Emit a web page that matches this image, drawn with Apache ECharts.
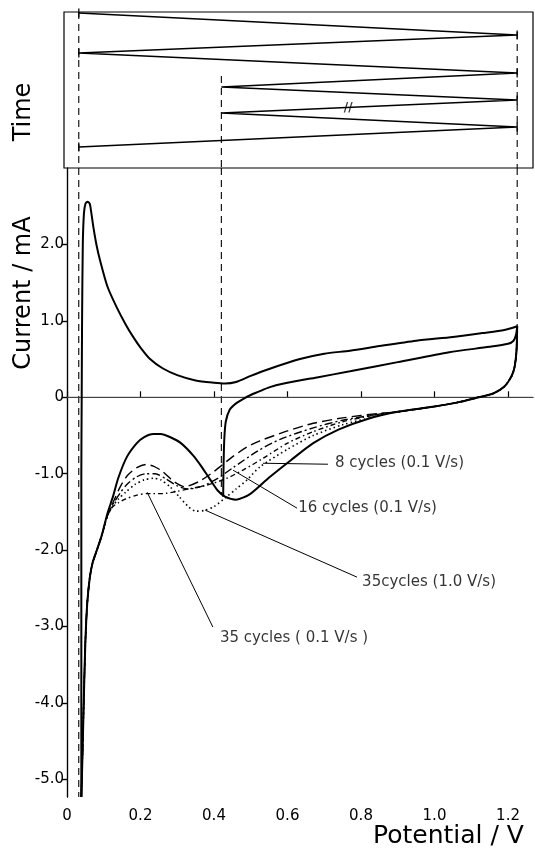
<!DOCTYPE html>
<html>
<head>
<meta charset="utf-8">
<script src="https://cdn.jsdelivr.net/npm/echarts@6/dist/echarts.min.js"></script>
<style>
  html, body { margin: 0; padding: 0; background: #fff; }
  #chart { width: 535px; height: 851px; }
</style>
</head>
<body>
<div id="chart"></div>
<script>
// potential limits of the sweep programme (V)
var LIMITS = [0.032, 0.42, 1.225];

// time programme (top panel): potential vs. time
var TIME_V = [0.032, 1.225, 0.032, 1.225, 0.42, 1.225, 0.42, 1.225, 0.032];
var TIME_T = [1, 23, 41, 61, 75, 88, 101, 115, 135];
var TIME_TICKS = [0, 1, 2, 3, 5, 7, 8]; // vertices that carry an end tick

// first cycle, anodic 0.03 -> 1.22 V
var SOLID_UP = [[0.039,-5.23],[0.039,-3.0],[0.039,-1.0],[0.04,0],[0.041,1.0],[0.043,2.0],[0.046,2.4],
  [0.05,2.53],[0.056,2.56],[0.062,2.53],[0.066,2.42],[0.072,2.22],[0.08,2.0],[0.09,1.79],[0.11,1.45],
  [0.135,1.18],[0.16,0.95],[0.18,0.79],[0.2,0.65],[0.226,0.5],[0.26,0.38],[0.3,0.29],[0.35,0.22],
  [0.4,0.19],[0.43,0.18],[0.46,0.2],[0.5,0.28],[0.55,0.37],[0.634,0.5],[0.7,0.57],[0.77,0.61],
  [0.85,0.67],[0.95,0.74],[1.05,0.79],[1.13,0.84],[1.19,0.88],[1.225,0.93]];

// first cycle, cathodic 1.22 -> 0.03 V
var SOLID_DOWN = [[1.225,0.93],[1.223,0.6],[1.218,0.4],[1.21,0.28],[1.19,0.14],[1.16,0.05],[1.12,0.0],
  [1.06,-0.07],[1.0,-0.12],[0.9,-0.19],[0.82,-0.28],[0.74,-0.42],[0.67,-0.6],[0.61,-0.82],[0.55,-1.05],
  [0.5,-1.26],[0.46,-1.34],[0.43,-1.3],[0.41,-1.22],[0.39,-1.08],[0.365,-0.9],[0.343,-0.76],[0.31,-0.6],
  [0.28,-0.52],[0.255,-0.48],[0.235,-0.48],[0.21,-0.52],[0.19,-0.6],[0.163,-0.78],[0.14,-1.05],
  [0.125,-1.3],[0.11,-1.52],[0.095,-1.8],[0.082,-1.99],[0.07,-2.16],[0.062,-2.36],[0.055,-2.7],
  [0.05,-3.2],[0.046,-3.9],[0.042,-4.7],[0.039,-5.23]];

// anodic sweep starting at 0.42 V
var SOLID_UP_042 = [[0.425,-1.3],[0.426,-0.9],[0.428,-0.55],[0.432,-0.32],[0.443,-0.16],[0.46,-0.08],
  [0.48,-0.02],[0.5,0.03],[0.52,0.07],[0.55,0.13],[0.59,0.18],[0.68,0.26],[0.77,0.34],[0.9,0.46],
  [1.04,0.59],[1.15,0.66],[1.2,0.7],[1.215,0.74],[1.222,0.82],[1.225,0.93]];

// shared start and end of the cathodic sweeps after cycling
var HEAD = [[1.225,0.93],[1.223,0.6],[1.218,0.4],[1.21,0.28],[1.19,0.14],[1.16,0.05],[1.12,0.0],
  [1.06,-0.07],[1.0,-0.12],[0.9,-0.19]];
var TAIL = [[0.11,-1.55],[0.095,-1.8],[0.082,-1.99],[0.07,-2.16],[0.062,-2.36],[0.055,-2.7],
  [0.05,-3.2],[0.046,-3.9],[0.042,-4.7],[0.039,-5.23]];

var CYC8 = [[0.85,-0.21],[0.75,-0.27],[0.67,-0.34],[0.6,-0.44],[0.525,-0.57],[0.49,-0.65],[0.45,-0.78],
  [0.4,-0.97],[0.36,-1.1],[0.32,-1.17],[0.29,-1.1],[0.26,-0.97],[0.235,-0.9],[0.215,-0.88],[0.19,-0.92],
  [0.165,-1.02],[0.145,-1.17],[0.125,-1.38]];
var CYC16 = [[0.85,-0.22],[0.75,-0.3],[0.67,-0.4],[0.58,-0.55],[0.52,-0.7],[0.452,-0.92],[0.41,-1.06],
  [0.37,-1.16],[0.33,-1.2],[0.3,-1.16],[0.27,-1.07],[0.24,-1.0],[0.215,-1.0],[0.19,-1.04],[0.165,-1.13],
  [0.145,-1.25],[0.125,-1.4]];
var CYC35_FAST = [[0.85,-0.24],[0.75,-0.36],[0.67,-0.5],[0.6,-0.68],[0.525,-0.91],[0.49,-1.08],[0.46,-1.2],
  [0.435,-1.3],[0.4,-1.43],[0.375,-1.48],[0.35,-1.49],[0.33,-1.43],[0.305,-1.3],[0.28,-1.17],[0.255,-1.08],
  [0.235,-1.06],[0.21,-1.08],[0.185,-1.14],[0.16,-1.24],[0.14,-1.33],[0.125,-1.42]];
var CYC35_SLOW = [[0.85,-0.22],[0.75,-0.32],[0.67,-0.45],[0.6,-0.6],[0.533,-0.8],[0.48,-0.95],[0.43,-1.07],
  [0.38,-1.15],[0.33,-1.2],[0.3,-1.23],[0.26,-1.26],[0.218,-1.26],[0.19,-1.28],[0.16,-1.33],[0.14,-1.38],
  [0.125,-1.43]];

// annotations: label text, label anchor, pointer line
var NOTE_TEXT = ['8 cycles (0.1 V/s)', '16 cycles (0.1 V/s)', '35cycles (1.0 V/s)', '35 cycles ( 0.1 V/s )'];
var NOTE_AT = [[0.729,-0.863],[0.629,-1.451],[0.803,-2.418],[0.416,-3.15]];
var NOTE_LINE = [
  [[0.71,-0.876],[0.533,-0.863]],
  [[0.626,-1.451],[0.452,-0.954]],
  [[0.789,-2.353],[0.376,-1.477]],
  [[0.397,-3.007],[0.218,-1.242]]
];

var X_TICKS = [0, 0.2, 0.4, 0.6, 0.8, 1.0, 1.2];
var Y_TICKS = [-5, -4, -3, -2, -1, 0, 1, 2];

var FONT = 'DejaVu Sans';
var chart = echarts.init(document.getElementById('chart'));

function curve(data, width, dash) {
  return {
    type: 'line', xAxisIndex: 1, yAxisIndex: 1, data: data,
    showSymbol: false, symbol: 'none', smooth: 0.25, animation: false,
    lineStyle: { color: '#000', width: width, type: dash || 'solid' }, z: 3
  };
}

var timeData = TIME_V.map(function (v, i) { return [v, TIME_T[i]]; });
var tickData = TIME_TICKS.map(function (i) { return [TIME_V[i], TIME_T[i]]; });
var breakPt = [[0.765, 95.4]];

var series = [
  { type: 'line', xAxisIndex: 0, yAxisIndex: 0, data: timeData, symbol: 'none', animation: false,
    lineStyle: { color: '#000', width: 1.3 } },
  { type: 'scatter', xAxisIndex: 0, yAxisIndex: 0, data: tickData, symbol: 'rect', symbolSize: [1.6, 9],
    itemStyle: { color: '#000' }, animation: false },
  { type: 'scatter', xAxisIndex: 0, yAxisIndex: 0, data: breakPt, symbolSize: 0, animation: false,
    label: { show: true, formatter: '//', position: 'inside', fontSize: 12, fontWeight: 'bold', color: '#000', fontFamily: FONT } },
  // dashed limit lines
  { type: 'line', xAxisIndex: 0, yAxisIndex: 0, data: [[LIMITS[0], 0], [LIMITS[0], 156]], symbol: 'none', animation: false,
    lineStyle: { color: '#000', width: 1.1, type: [7, 5] } },
  { type: 'line', xAxisIndex: 0, yAxisIndex: 0, data: [[LIMITS[1], 64], [LIMITS[1], 156]], symbol: 'none', animation: false,
    lineStyle: { color: '#000', width: 1.1, type: [7, 5] } },
  { type: 'line', xAxisIndex: 0, yAxisIndex: 0, data: [[LIMITS[2], 20], [LIMITS[2], 156]], symbol: 'none', animation: false,
    lineStyle: { color: '#000', width: 1.1, type: [7, 5] } },
  { type: 'line', xAxisIndex: 1, yAxisIndex: 1, data: [[LIMITS[0], 3], [LIMITS[0], -5.23]], symbol: 'none', animation: false,
    lineStyle: { color: '#000', width: 1.1, type: [7, 5] } },
  { type: 'line', xAxisIndex: 1, yAxisIndex: 1, data: [[LIMITS[1], 3], [LIMITS[1], -1.28]], symbol: 'none', animation: false,
    lineStyle: { color: '#000', width: 1.1, type: [7, 5] } },
  { type: 'line', xAxisIndex: 1, yAxisIndex: 1, data: [[LIMITS[2], 3], [LIMITS[2], 0.93]], symbol: 'none', animation: false,
    lineStyle: { color: '#000', width: 1.1, type: [7, 5] } },
  // zero current line
  { type: 'line', xAxisIndex: 1, yAxisIndex: 1, data: [[0, 0], [1.268, 0]], symbol: 'none', animation: false,
    lineStyle: { color: '#555', width: 1 } },
  curve(SOLID_UP, 2),
  curve(SOLID_DOWN, 2),
  curve(SOLID_UP_042, 2),
  curve(HEAD.concat(CYC8, TAIL), 1.4, [10, 5]),
  curve(HEAD.concat(CYC16, TAIL), 1.4, [8, 3, 2, 3]),
  curve(HEAD.concat(CYC35_FAST, TAIL), 1.6, [1.5, 3]),
  curve(HEAD.concat(CYC35_SLOW, TAIL), 1.4, [5, 3, 1.5, 3])
];

NOTE_LINE.forEach(function (seg) {
  series.push({ type: 'line', xAxisIndex: 1, yAxisIndex: 1, data: seg, symbol: 'none', animation: false,
    lineStyle: { color: '#000', width: 1 } });
});
series.push({
  type: 'scatter', xAxisIndex: 1, yAxisIndex: 1, symbolSize: 0, animation: false,
  data: NOTE_AT.map(function (p, i) { return { value: p, name: NOTE_TEXT[i] }; }),
  label: { show: true, position: 'right', distance: 0, formatter: '{b}', color: '#000', fontSize: 15, fontFamily: FONT }
});

chart.setOption({
  backgroundColor: '#fff',
  animation: false,
  grid: [
    { left: 64, right: 2, top: 12, height: 156, show: true, borderColor: '#000', borderWidth: 1.2 },
    { left: 67, right: 2, top: 168, bottom: 54 }
  ],
  xAxis: [
    { gridIndex: 0, type: 'value', min: -0.0082, max: 1.268, show: false },
    { gridIndex: 1, type: 'value', min: 0, max: 1.268,
      axisLine: { show: true, lineStyle: { color: '#000', width: 1.2 } },
      axisTick: { show: true, inside: true, length: 6, customValues: X_TICKS, lineStyle: { color: '#000', width: 1.2 } },
      axisLabel: { show: true, customValues: X_TICKS, color: '#000', fontSize: 15, fontFamily: FONT, margin: 12,
        formatter: function (v) { return v === 0 ? '0' : v.toFixed(1); } },
      splitLine: { show: false } }
  ],
  yAxis: [
    { gridIndex: 0, type: 'value', min: 0, max: 156, inverse: true, show: false },
    { gridIndex: 1, type: 'value', min: -5.23, max: 3.0,
      axisLine: { show: true, onZero: false, lineStyle: { color: '#000', width: 1.2 } },
      axisTick: { show: true, inside: false, length: 5, customValues: Y_TICKS, lineStyle: { color: '#000', width: 1.2 } },
      axisLabel: { show: true, customValues: Y_TICKS, color: '#000', fontSize: 15, fontFamily: FONT, margin: 3,
        formatter: function (v) { return v === 0 ? '0' : v.toFixed(1); } },
      splitLine: { show: false } },
    { gridIndex: 1, type: 'value', min: -5.23, max: 3.0, position: 'right',
      axisLine: { show: true, lineStyle: { color: '#000', width: 1.2 } },
      axisTick: { show: true, inside: true, length: 5, customValues: Y_TICKS, lineStyle: { color: '#000', width: 1.2 } },
      axisLabel: { show: false }, splitLine: { show: false } }
  ],
  graphic: [
    { type: 'text', left: 373, top: 824, style: { text: 'Potential / V', fontSize: 25, fontFamily: FONT, fill: '#000' } },
    { type: 'text', x: 24, y: 293, rotation: Math.PI / 2,
      style: { text: 'Current / mA', fontSize: 24, fontFamily: FONT, fill: '#000', align: 'center', verticalAlign: 'middle' } },
    { type: 'text', x: 24, y: 112, rotation: Math.PI / 2,
      style: { text: 'Time', fontSize: 24, fontFamily: FONT, fill: '#000', align: 'center', verticalAlign: 'middle' } }
  ],
  series: series
});
</script>
</body>
</html>
